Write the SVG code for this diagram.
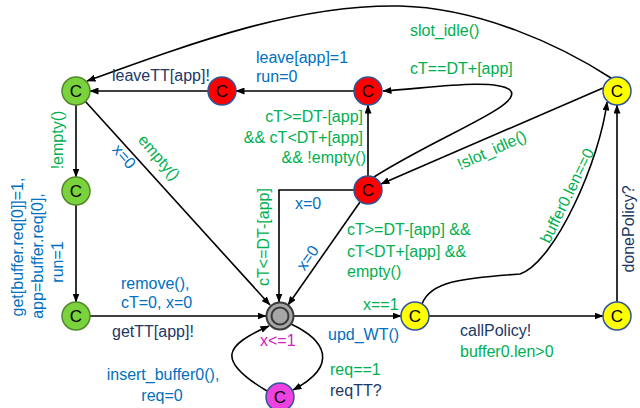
<svg xmlns="http://www.w3.org/2000/svg" width="640" height="408" viewBox="0 0 640 408">
<defs>
<marker id="ah" markerUnits="userSpaceOnUse" markerWidth="9" markerHeight="7" refX="8.5" refY="3.5" orient="auto">
<path d="M0,0 L9,3.5 L0,7 z" fill="#000"/>
</marker>
<style>
.e{fill:none;stroke:#000;stroke-width:1.6;marker-end:url(#ah)}
.n{fill:none;stroke:#000;stroke-width:1.6}
text{font-family:"Liberation Sans",Arial,sans-serif;font-size:16px}
.g{fill:#00b050}
.b{fill:#0070c0}
.d{fill:#203864}
.m{fill:#d020c0}
.c{font-size:17px;fill:#000;text-anchor:middle}
.gr{fill:#7ad33c;stroke:#52882a;stroke-width:1.5}
.rd{fill:#ff0000;stroke:#2f5597;stroke-width:1.5}
.ye{fill:#ffff00;stroke:#2f5597;stroke-width:1.5}
.mg{fill:#ee42e0;stroke:#2f5597;stroke-width:1.5}
</style>
</defs>
<rect width="640" height="408" fill="#fff"/>
<g id="connectors">
<path class="e" d="M611,78 C560,45 480,8 400,6 C300,4 200,40 87,81"/>
<path class="e" d="M374,177 C440,135 525,105 510,90 C495,78 430,88 383,91"/>
<path class="e" d="M603,88 L381,184"/>
<path class="e" d="M368,176 L368,105"/>
<path class="e" d="M354,91 L236,91"/>
<path class="e" d="M208,91 L90,91"/>
<path class="e" d="M76,105 L76,177"/>
<path class="e" d="M76,205 L76,302"/>
<path class="e" d="M85,101 L270,305"/>
<path class="e" d="M90,316 L266,316"/>
<path class="e" d="M354,190 H279 V302"/>
<path class="e" d="M360,202 L288,305"/>
<path class="e" d="M294,316 L401,316"/>
<path class="e" d="M429,316 L603,316"/>
<path class="e" d="M617,302 L617,105"/>
<path class="e" d="M422,304 C430,282 460,278 520,274 C555,262 600,160 607,102"/>
<path class="e" d="M291,324 C325,340 340,365 293,390"/>
<path class="e" d="M267,391 C215,360 225,345 269,326"/>
</g>
<g id="labels">
<text class="d" x="112" y="81">leaveTT[app]!</text>
<text class="b" x="256" y="63">leave[app]=1</text>
<text class="b" x="256" y="82">run=0</text>
<text class="g" x="410" y="36">slot_idle()</text>
<text class="g" x="410" y="74">cT==DT+[app]</text>
<text class="g" x="363" y="122" text-anchor="end">cT&gt;=DT-[app]</text>
<text class="g" x="363" y="143" text-anchor="end">&amp;&amp; cT&lt;DT+[app]</text>
<text class="g" x="366" y="163" text-anchor="end">&amp;&amp; !empty()</text>
<text class="g" transform="translate(494,155) rotate(-24)" text-anchor="middle">!slot_idle()</text>
<text class="g" transform="translate(63,140) rotate(-90)" text-anchor="middle">!empty()</text>
<text class="g" transform="translate(155,161) rotate(49)" text-anchor="middle">empty()</text>
<text class="b" transform="translate(120,160) rotate(49)" text-anchor="middle">x=0</text>
<text class="b" transform="translate(23,247) rotate(-90)" text-anchor="middle">get[buffer.req[0]]=1,</text>
<text class="b" transform="translate(43,256) rotate(-90)" text-anchor="middle">app=buffer.req[0],</text>
<text class="b" transform="translate(63,262) rotate(-90)" text-anchor="middle">run=1</text>
<text class="g" transform="translate(269,237) rotate(-90)" text-anchor="middle">cT&lt;=DT-[app]</text>
<text class="b" x="295" y="209">x=0</text>
<text class="b" transform="translate(312,261) rotate(-55)" text-anchor="middle">x=0</text>
<text class="g" x="347" y="235">cT&gt;=DT-[app] &amp;&amp;</text>
<text class="g" x="347" y="257">cT&lt;DT+[app] &amp;&amp;</text>
<text class="g" x="347" y="277">empty()</text>
<text class="g" x="363" y="310">x==1</text>
<text class="b" x="328" y="340">upd_WT()</text>
<text class="m" x="260" y="346">x&lt;=1</text>
<text class="g" x="330" y="375">req==1</text>
<text class="d" x="330" y="396">reqTT?</text>
<text class="b" x="163" y="380" text-anchor="middle">insert_buffer0(),</text>
<text class="b" x="162" y="401" text-anchor="middle">req=0</text>
<text class="b" x="121" y="289">remove(),</text>
<text class="b" x="121" y="308">cT=0, x=0</text>
<text class="d" x="112" y="337">getTT[app]!</text>
<text class="d" x="460" y="336">callPolicy!</text>
<text class="g" x="460" y="357">buffer0.len&gt;0</text>
<text class="g" transform="translate(572,198) rotate(-64)" text-anchor="middle">buffer0.len==0</text>
<text class="d" transform="translate(634,229) rotate(-90)" text-anchor="middle">donePolicy?</text>
</g>
<g id="G1"><circle class="gr" cx="76" cy="91" r="14"/><text class="c" x="76" y="97">C</text></g>
<g id="G2"><circle class="gr" cx="76" cy="191" r="14"/><text class="c" x="76" y="197">C</text></g>
<g id="G3"><circle class="gr" cx="76" cy="316" r="14"/><text class="c" x="76" y="322">C</text></g>
<g id="R1"><circle class="rd" cx="222" cy="91" r="14"/><text class="c" x="222" y="97">C</text></g>
<g id="R2"><circle class="rd" cx="368" cy="91" r="14"/><text class="c" x="368" y="97">C</text></g>
<g id="R3"><circle class="rd" cx="368" cy="190" r="14"/><text class="c" x="368" y="196">C</text></g>
<g id="Init"><circle cx="280" cy="316" r="13.5" fill="#a6a6a6" stroke="#3a3a3a" stroke-width="2"/><circle cx="280" cy="316" r="8.5" fill="#a6a6a6" stroke="#3a3a3a" stroke-width="2"/></g>
<g id="Y1"><circle class="ye" cx="415" cy="316" r="14"/><text class="c" x="415" y="322">C</text></g>
<g id="Y2"><circle class="ye" cx="617" cy="316" r="14"/><text class="c" x="617" y="322">C</text></g>
<g id="Y3"><circle class="ye" cx="617" cy="91" r="14"/><text class="c" x="617" y="97">C</text></g>
<g id="M"><circle class="mg" cx="280" cy="397" r="14"/><text class="c" x="280" y="403">C</text></g>
</svg>
